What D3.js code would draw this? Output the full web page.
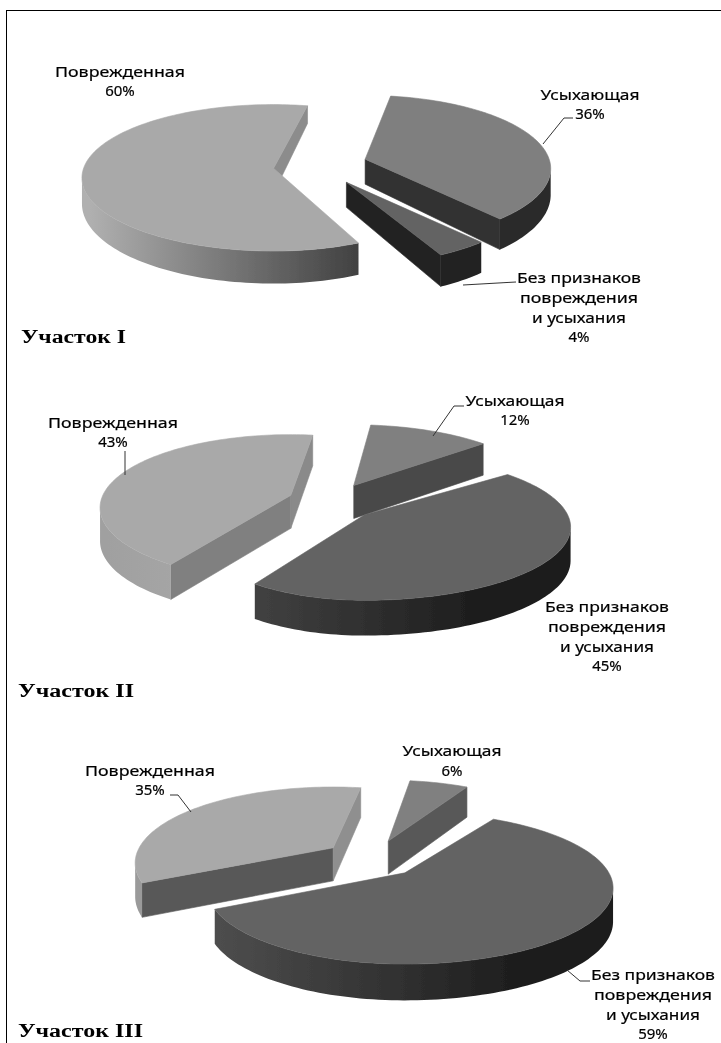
<!DOCTYPE html>
<html><head><meta charset="utf-8">
<script src="https://cdn.jsdelivr.net/npm/d3@7"></script>
<style>html,body{margin:0;padding:0;background:#fff}svg{display:block}</style>
</head><body><div id="c"></div>
<script>
const categories = ["Усыхающая", "Без признаков повреждения и усыхания", "Поврежденная"];
const plotNames = ["Участок I", "Участок II", "Участок III"];
const valuesI = [36, 4, 60];
const valuesII = [12, 45, 43];
const valuesIII = [6, 59, 35];

// layout of the tilted pies (not data). rx = [left reach, right reach] per slice, rot = slice turn in degrees
const geometry = [
  {cx:320, cy:165, E:47, F:21, rx:[[184,184],[184,184],[190,184]], rot:[0,0,3], ry:72, k:.13, d0:25, m:.3, start:9},
  {cx:332, cy:502, E:44, F:19, rx:[[190,190],[172,203],[188,184]], rot:[-2,0,0], ry:71, k:.17, d0:33, m:.07, start:8},
  {cx:372, cy:859, E:48, F:19, rx:[[187,187],[194,204],[194,190]], rot:[-1,0,1], ry:73, k:.2, d0:33, m:.1, start:9}
];
// colours: [top, wall at slice start, wall at slice end, rim left, rim right]
const shades = [
  [["#7f7f7f","#333333","#333333","#3a3a3a","#2c2c2c"],["#636363","#242424","#242424","#2a2a2a","#222222"],["#a9a9a9","#8c8c8c","#8c8c8c","#b0b0b0","#3e3e3e"]],
  [["#808080","#4a4a4a","#4a4a4a","#4a4a4a","#4a4a4a"],["#636363","#444444","#444444","#505050","#1f1f1f"],["#a9a9a9","#808080","#8a8a8a","#a0a0a0","#b4b4b4"]],
  [["#808080","#595959","#595959","#595959","#595959"],["#636363","#444444","#444444","#505050","#1f1f1f"],["#a9a9a9","#595959","#8f8f8f","#9a9a9a","#b4b4b4"]]
];
const rimU = [[-1,.5],[-1,.5],[-1,.5]];
const titlePos = [[21,343,105],[18,697,116],[18,1037,125]];
const labelSets = [
  [{x:590,y:[100,119],t:["Усыхающая","36%"]},
   {x:579,y:[283,303,323,342],t:["Без признаков","повреждения","и усыхания","4%"]},
   {x:120,y:[77,96],t:["Поврежденная","60%"]}],
  [{x:515,y:[406,425],t:["Усыхающая","12%"]},
   {x:607,y:[612,632,652,671],t:["Без признаков","повреждения","и усыхания","45%"]},
   {x:113,y:[428,447],t:["Поврежденная","43%"]}],
  [{x:452,y:[756,776],t:["Усыхающая","6%"]},
   {x:653,y:[980,1000,1020,1039],t:["Без признаков","повреждения","и усыхания","59%"]},
   {x:150,y:[776,795],t:["Поврежденная","35%"]}]
];
const textWidths = {"Усыхающая":99,"Без признаков":124,"повреждения":118,"и усыхания":94,"Поврежденная":130};
const leaders = [
  [[[543,144],[564,118],[573,118]],[[463,285],[516,282]]],
  [[[433,436],[454,406],[464,406]],[[125,475],[125,451]]],
  [[[191,812],[178,795],[170,795]],[[567,970],[580,981],[590,981]]]
];

const W=721,H=1043;
const svg=d3.select("#c").append("svg").attr("width",W).attr("height",H).attr("viewBox",[0,0,W,H]);
svg.append("rect").attr("width",W).attr("height",H).attr("fill","#fff");
svg.append("rect").attr("x",6.5).attr("y",10.5).attr("width",W+20).attr("height",H+20).attr("fill","none").attr("stroke","#000").attr("stroke-width",1);
const defs=svg.append("defs");
defs.append("filter").attr("id","soft").attr("x","-5%").attr("y","-5%").attr("width","110%").attr("height","110%")
  .append("feGaussianBlur").attr("stdDeviation",.45);

const pie=d3.pie().sort(null).value(d=>d);
const line=d3.line();
const deg=Math.PI/180;

[valuesI,valuesII,valuesIII].forEach((vals,pi)=>{
  const g=geometry[pi];
  const arcs=pie.startAngle(g.start*deg).endAngle((g.start+360)*deg)(vals);
  const root=svg.append("g").attr("filter","url(#soft)");
  const slices=arcs.map((a,i)=>{
    const mid=(a.startAngle+a.endAngle)/2;
    const ax=g.cx+g.E*Math.sin(mid), ay=g.cy-g.F*Math.cos(mid);
    const [rxL,rxR]=g.rx[i];
    const turn=g.rot[i]*deg;
    const pt=th=>{const u=Math.sin(th+turn),v=-Math.cos(th+turn),s=1/(1-g.k*v);
      return {x:ax+(u<0?rxL:rxR)*u*s,y:ay+g.ry*v*s,u,v};};
    const dep=v=>g.d0*(1+g.m*v);
    const n=Math.max(8,Math.ceil((a.endAngle-a.startAngle)/deg/1.5));
    const rim=d3.range(n+1).map(j=>pt(a.startAngle+(a.endAngle-a.startAngle)*j/n));
    return {i,mid,ax,ay,rx:rxR,rim,dep,depth:-Math.cos(mid),col:shades[pi][i]};
  });
  slices.slice().sort((p,q)=>p.depth-q.depth).forEach(s=>{
    const gs=root.append("g").attr("class","slice");
    const apex={x:s.ax,y:s.ay,v:0};
    const quad=(p,q)=>[[p.x,p.y],[q.x,q.y],[q.x,q.y+s.dep(q.v)],[p.x,p.y+s.dep(p.v)]];
    const A=s.rim[0],B=s.rim[s.rim.length-1];
    const drawWall=(p,q,c)=>gs.append("path").attr("d",line(quad(p,q))+"Z").attr("fill",c).attr("stroke",c).attr("stroke-width",.6);
    if(A.x<apex.x) drawWall(apex,A,s.col[1]);
    if(apex.x<B.x) drawWall(B,apex,s.col[2]);
    // rim wall: one shape through the front-facing part of the arc, shaded left to right
    const front=s.rim.filter((p,j)=>{
      const prev=s.rim[j-1],next=s.rim[j+1];
      return (next&&next.x<p.x)||(prev&&p.x<prev.x);
    });
    if(front.length>1){
      const id=`rim${pi}_${s.i}`;
      const grad=defs.append("linearGradient").attr("id",id).attr("gradientUnits","userSpaceOnUse")
        .attr("x1",s.ax+rimU[pi][0]*s.rx).attr("x2",s.ax+rimU[pi][1]*s.rx).attr("y1",0).attr("y2",0);
      grad.append("stop").attr("offset",0).attr("stop-color",s.col[3]);
      grad.append("stop").attr("offset",1).attr("stop-color",s.col[4]);
      const poly=[...front.map(p=>[p.x,p.y]),...front.slice().reverse().map(p=>[p.x,p.y+s.dep(p.v)])];
      gs.append("path").attr("d",line(poly)+"Z").attr("fill",`url(#${id})`);
    }
    gs.append("path").attr("d",line([[apex.x,apex.y],...s.rim.map(p=>[p.x,p.y])])+"Z")
      .attr("fill",s.col[0]).attr("stroke",s.col[0]).attr("stroke-width",.6);
  });
  leaders[pi].forEach(l=>root.append("path").attr("d",line(l)).attr("fill","none").attr("stroke","#333").attr("stroke-width",1));
  labelSets[pi].forEach(lab=>{
    lab.t.forEach((t,j)=>{
      const el=root.append("text").attr("x",lab.x).attr("y",lab.y[j]).attr("text-anchor","middle")
        .attr("font-family","'Noto Sans',sans-serif").attr("font-size",15).attr("fill","#000").attr("stroke","#000").attr("stroke-width",.2).text(t);
      if(textWidths[t]) el.attr("textLength",textWidths[t]).attr("lengthAdjust","spacingAndGlyphs");
    });
  });
  const tp=titlePos[pi];
  root.append("text").attr("x",tp[0]).attr("y",tp[1]).attr("font-family","'Liberation Serif',serif").attr("font-weight","bold")
    .attr("font-size",18).attr("fill","#000").attr("textLength",tp[2]).attr("lengthAdjust","spacingAndGlyphs").text(plotNames[pi]);
});
</script></body></html>
